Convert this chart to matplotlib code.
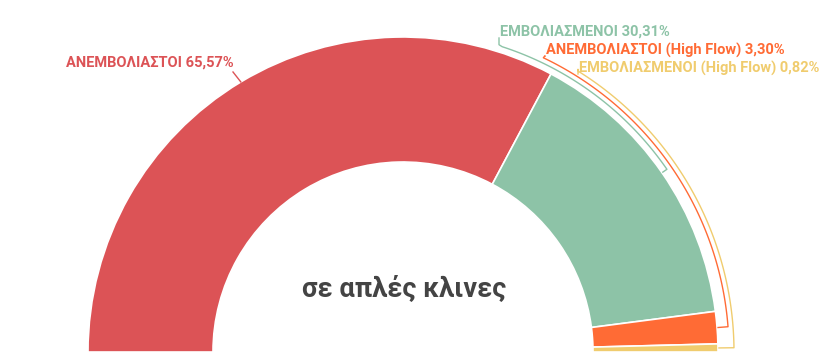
import numpy as np
import matplotlib.pyplot as plt
from matplotlib.patches import Wedge

# data
labels = ['ΑΝΕΜΒΟΛΙΑΣΤΟΙ', 'ΕΜΒΟΛΙΑΣΜΕΝΟΙ', 'ΑΝΕΜΒΟΛΙΑΣΤΟΙ (High Flow)', 'ΕΜΒΟΛΙΑΣΜΕΝΟΙ (High Flow)']
values = [65.57, 30.31, 3.30, 0.82]
colors = ['#dc5356', '#8dc3a7', '#ff6b35', '#f0cc6e']
center_title = 'σε απλές κλινες'

plt.rcParams['font.family'] = ['Roboto', 'DejaVu Sans']

W, H = 832, 362
fig = plt.figure(figsize=(W / 100, H / 100), dpi=100)
ax = fig.add_axes([0, 0, 1, 1])
ax.set_xlim(0, W)
ax.set_ylim(0, H)
ax.axis('off')

cx, cy = 403, H - 352
r_out, r_in = 315, 190

# wedges, going clockwise from the left
start = 180.0
mids = []
for v, c in zip(values, colors):
    span = v / 100 * 180
    ax.add_patch(Wedge((cx, cy), r_out, start - span, start, width=r_out - r_in,
                       facecolor=c, edgecolor='white', linewidth=1.2))
    mids.append(start - span / 2)
    start -= span

def pt(r, a):
    return cx + r * np.cos(np.radians(a)), cy + r * np.sin(np.radians(a))

def lab(v):
    return f'{v:.2f}'.replace('.', ',') + '%'

fs = 10.5
# first label: straight leader
x0, y0 = pt(r_out, mids[0])
ax.plot([x0, 233], [y0, H - 72], color=colors[0], lw=1)
ax.text(234, H - 63, f'{labels[0]} {lab(values[0])}', color=colors[0],
        fontsize=fs, fontweight='bold', ha='right', va='center')

# others: leader follows the arc
arc_r = [321, 326, 331]
arc_a0 = [72.0, 64.5, 58.0]
text_xy = [(500, 32), (546, 50), (579, 68)]
for k in range(1, 4):
    c = colors[k]
    r = arc_r[k - 1]
    a = np.linspace(arc_a0[k - 1], mids[k], 120)
    xs = cx + r * np.cos(np.radians(a))
    ys = cy + r * np.sin(np.radians(a))
    tx, ty = text_xy[k - 1]
    ex, ey = pt(r_out + 1, mids[k])
    xs = np.concatenate([[tx - 1, tx - 1], xs, [ex]])
    ys = np.concatenate([[H - ty - 6, ys[0] + 2], ys, [ey]])
    ax.plot(xs, ys, color=c, lw=1)
    ax.text(tx, H - ty, f'{labels[k]} {lab(values[k])}', color=c,
            fontsize=fs, fontweight='bold', ha='left', va='center')

ax.text(cx + 1, H - 290, center_title, color='#444444', fontsize=19.5,
        fontweight='bold', ha='center', va='center')

fig.savefig('out.png', dpi=100)
